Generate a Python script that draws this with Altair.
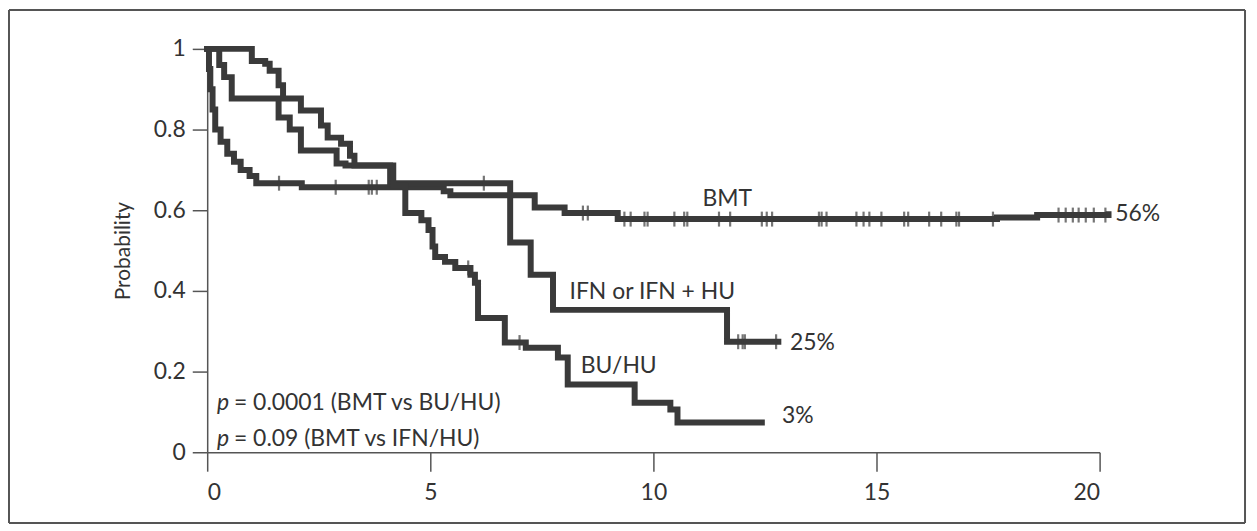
import altair as alt
import pandas as pd

# ---- data (years, survival probability) ----
groups = ["BMT", "IFN or IFN + HU", "BU/HU"]

bmt_t = [0, 0.04, 0.07, 0.12, 0.18, 0.30, 0.45, 0.60, 0.75, 0.95, 1.10, 2.12, 5.30, 5.45, 7.34, 8.01, 9.20, 17.7, 18.6, 20.2]
bmt_s = [1.0, 0.95, 0.90, 0.85, 0.80, 0.77, 0.74, 0.72, 0.70, 0.685, 0.667, 0.657, 0.647, 0.637, 0.607, 0.593, 0.578, 0.582, 0.588, 0.590]

ifn_t = [0, 0.27, 0.38, 0.55, 1.60, 1.85, 2.10, 2.90, 3.10, 4.10, 6.79, 7.25, 7.75, 11.65, 12.8]
ifn_s = [1.0, 0.96, 0.93, 0.877, 0.83, 0.80, 0.748, 0.716, 0.711, 0.667, 0.52, 0.44, 0.353, 0.274, 0.274]

bu_t = [0, 1.00, 1.30, 1.40, 1.60, 1.70, 2.10, 2.55, 2.70, 3.00, 3.20, 3.30, 4.17, 4.44, 4.80, 4.96, 5.05, 5.11, 5.33, 5.56, 5.90, 6.00, 6.07, 6.67, 7.14, 7.86, 8.08, 9.58, 10.38, 10.54, 12.43]
bu_s = [1.0, 0.97, 0.963, 0.946, 0.91, 0.877, 0.847, 0.81, 0.78, 0.765, 0.735, 0.711, 0.662, 0.593, 0.575, 0.551, 0.51, 0.484, 0.472, 0.457, 0.44, 0.42, 0.333, 0.272, 0.259, 0.235, 0.168, 0.123, 0.106, 0.074, 0.074]

# censoring marks (years)
bmt_cens = [1.61, 2.88, 3.62, 3.69, 3.80, 8.42, 8.53, 9.35, 9.49, 9.80, 9.87, 10.47, 10.69, 10.76,
            11.47, 11.72, 12.43, 12.54, 12.66, 13.71, 13.77, 13.88, 14.55, 14.71, 14.84, 15.11,
            15.62, 15.71, 16.18, 16.45, 16.79, 16.85, 17.61, 19.08, 19.24, 19.40, 19.53, 19.69,
            19.87, 20.13]
ifn_cens = [6.2, 11.9, 12.0, 12.05, 12.75]
bu_cens = [5.85, 7.0]

# annotation texts
label_text = ["BMT", "56%", "IFN or IFN + HU", "25%", "BU/HU", "3%"]
label_x = [11.1, 20.35, 8.12, 13.06, 8.37, 12.88]
label_y = [0.628, 0.59, 0.397, 0.272, 0.215, 0.091]

p_rest = ["= 0.0001 (BMT vs BU/HU)", "= 0.09 (BMT vs IFN/HU)"]
p_y = [0.123, 0.032]

INK = "#3a3a3a"
TXT = "#333333"
FONT = "Lato"
FS = 23


def step_value(ts, ss, x):
    v = ss[0]
    for t, s in zip(ts, ss):
        if t <= x:
            v = s
    return v


series = [(groups[0], bmt_t, bmt_s, bmt_cens),
          (groups[1], ifn_t, ifn_s, ifn_cens),
          (groups[2], bu_t, bu_s, bu_cens)]

curve_rows, cens_rows = [], []
for g, ts, ss, cs in series:
    for t, s in zip(ts, ss):
        curve_rows.append({"group": g, "t": t, "s": s})
    for c in cs:
        cens_rows.append({"group": g, "t": c, "s": step_value(ts, ss, c)})
curves = pd.DataFrame(curve_rows)
cens = pd.DataFrame(cens_rows)
labels = pd.DataFrame({"text": label_text, "t": label_x, "s": label_y})
pdf = pd.DataFrame({"rest": p_rest, "s": p_y, "t": [0.6, 0.6], "pt": [0.22, 0.22]})

xscale = alt.Scale(domain=[0, 20], nice=False, zero=False)
yscale = alt.Scale(domain=[0, 1], nice=False)

xaxis = alt.Axis(values=[0, 5, 10, 15, 20], format="d", tickSize=19, labelPadding=10,
                 grid=False, title=None)
yaxis = alt.Axis(values=[0, 0.2, 0.4, 0.6, 0.8, 1], tickSize=15, labelPadding=7, grid=False,
                 labelExpr="datum.value == 0 ? '0' : (datum.value == 1 ? '1' : format(datum.value, '.1f'))",
                 title="Probability", titlePadding=20)

# outer frame around the whole figure (pixel offsets from the plot area)
one = pd.DataFrame({"a": [0]})
fr = dict(color="#555555", strokeWidth=2)
FL, FR, FT, FB = -199, 1042, -39, 476
frame_top = alt.Chart(one).mark_rule(**fr).encode(x=alt.value(FL), x2=alt.value(FR), y=alt.value(FT))
frame_bot = alt.Chart(one).mark_rule(**fr).encode(x=alt.value(FL), x2=alt.value(FR), y=alt.value(FB))
frame_lft = alt.Chart(one).mark_rule(**fr).encode(x=alt.value(FL), y=alt.value(FT), y2=alt.value(FB))
frame_rgt = alt.Chart(one).mark_rule(**fr).encode(x=alt.value(FR), y=alt.value(FT), y2=alt.value(FB))

lines = alt.Chart(curves).mark_line(
    interpolate="step-after", color=INK, strokeWidth=6, strokeJoin="miter", strokeCap="square"
).encode(
    x=alt.X("t:Q", scale=xscale, axis=xaxis),
    y=alt.Y("s:Q", scale=yscale, axis=yaxis),
    detail="group:N",
)

ticks = alt.Chart(cens).mark_tick(orient="vertical", color=INK, size=15, thickness=2.2).encode(
    x=alt.X("t:Q", scale=xscale), y=alt.Y("s:Q", scale=yscale)
)

texts = alt.Chart(labels).mark_text(
    align="left", baseline="middle", font=FONT, fontSize=FS, color=TXT
).encode(x=alt.X("t:Q", scale=xscale), y=alt.Y("s:Q", scale=yscale), text="text:N")

p_italic = alt.Chart(pdf).mark_text(
    align="left", baseline="middle", font=FONT, fontSize=FS, fontStyle="italic", color=TXT
).encode(x=alt.X("pt:Q", scale=xscale), y=alt.Y("s:Q", scale=yscale), text=alt.value("p"))

p_text = alt.Chart(pdf).mark_text(
    align="left", baseline="middle", font=FONT, fontSize=FS, color=TXT
).encode(x=alt.X("t:Q", scale=xscale), y=alt.Y("s:Q", scale=yscale), text="rest:N")

chart = alt.layer(frame_top, frame_bot, frame_lft, frame_rgt, lines, ticks, texts, p_italic, p_text).properties(
    width=896, height=405,
    autosize=alt.AutoSizeParams(type="none"),
    padding={"left": 200, "top": 40, "right": 150, "bottom": 75},
).configure_view(stroke=None).configure_axis(
    domainColor="#555555", domainWidth=1.5, tickColor="#555555", tickWidth=1.5,
    labelFont=FONT, labelFontSize=FS, labelColor=TXT,
    titleFont=FONT, titleFontSize=21, titleColor=TXT, titleFontWeight="normal",
)

chart.save("out.html", embed_options={"renderer": "svg", "actions": False})
